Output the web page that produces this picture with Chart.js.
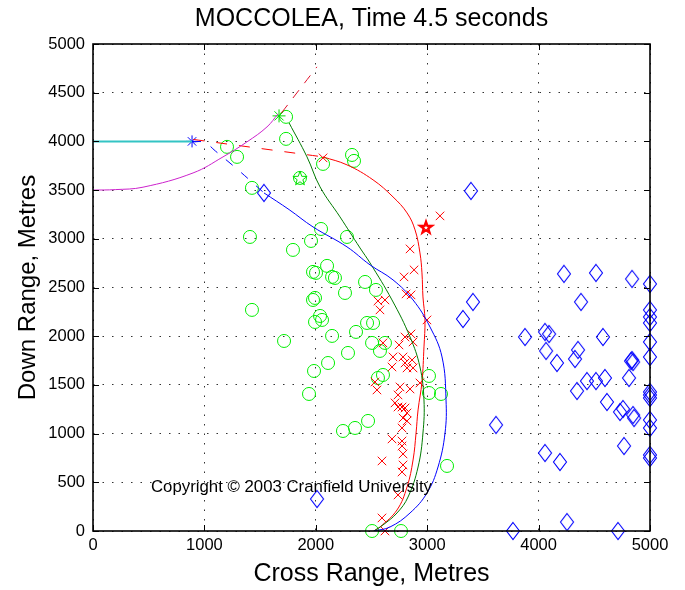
<!DOCTYPE html>
<html>
<head>
<meta charset="utf-8">
<title>MOCCOLEA, Time 4.5 seconds</title>
<script src="https://cdn.jsdelivr.net/npm/chart.js@4.4.0/dist/chart.umd.min.js"></script>
<style>
  html, body { margin: 0; padding: 0; background: #fff; }
  #wrap { width: 685px; height: 590px; }
</style>
</head>
<body>
<div id="wrap"><canvas id="plot" width="685" height="590"></canvas></div>
<script>
const xTicks = [0, 1000, 2000, 3000, 4000, 5000];
const yTicks = [0, 500, 1000, 1500, 2000, 2500, 3000, 3500, 4000, 4500, 5000];

// tracks (cross range, down range)
const launchTrack = [[0, 4000], [889, 4000]];
const arcTrack = [[0, 3500], [200, 3505], [449, 3530], [898, 3676], [1167, 3841], [1382, 3995], [1562, 4149], [1661, 4283]];
const redLead = [[900, 4020], [2065, 3841]];
const redClimb = [[1690, 4290], [2010, 4765]];
const blueLead = [[889, 3995], [1000, 3990], [1100, 3900], [1320, 3690], [1535, 3471]];
const blueTrack = [[1535, 3471], [1760, 3300], [1975, 3122], [2280, 2917], [2487, 2732], [2693, 2578], [2873, 2372], [3025, 2095],
  [3133, 1787], [3169, 1345], [3160, 1006], [3097, 657], [2998, 390], [2846, 185], [2666, 41], [2520, 0]];
const greenTrack = [[1760, 4190], [1921, 3841], [2038, 3533], [2217, 3225], [2397, 2906], [2487, 2752], [2684, 2372], [2846, 1992],
  [2935, 1684], [2971, 1345], [2962, 1006], [2918, 657], [2828, 349], [2729, 185], [2603, 62], [2520, 0]];
const redTrack = [[2065, 3841], [2280, 3759], [2514, 3605], [2693, 3430], [2819, 3266], [2891, 3091], [2935, 2855], [2953, 2650],
  [2962, 2403], [2980, 2167], [2971, 1890], [2953, 1530], [2918, 1243], [2900, 1006], [2873, 729], [2819, 452], [2729, 216],
  [2576, 41], [2520, 0]];

// detections
const circles = [[1733, 4252], [1733, 4026], [1203, 3944], [1293, 3841], [2065, 3769], [2325, 3861], [2343, 3800], [1858, 3625],
  [1427, 3523], [1409, 3019], [2047, 3101], [2280, 3019], [1957, 2978], [1795, 2886], [2101, 2722], [1975, 2660], [2002, 2650],
  [2146, 2609], [2172, 2598], [2442, 2557], [2540, 2475], [2262, 2444], [1975, 2372], [1993, 2393], [1427, 2270], [2038, 2208],
  [2056, 2167], [1993, 2146], [2146, 2003], [2361, 2044], [2460, 2136], [2514, 2136], [2505, 1931], [2621, 1931], [2576, 1849],
  [1715, 1951], [2289, 1828], [2110, 1725], [1984, 1643], [2558, 1571], [2603, 1602], [3016, 1592], [3016, 1417], [3124, 1407],
  [1939, 1407], [2469, 1130], [2352, 1058], [2244, 1027], [3178, 668], [2505, 0], [2765, 0]];
const crosses = [[2065, 3831], [3115, 3235], [2846, 2896], [2792, 2609], [2882, 2681], [2810, 2434], [2855, 2424], [2558, 2362],
  [2621, 2372], [2576, 2270], [2998, 2167], [2801, 1992], [2855, 2023], [2873, 1941], [2747, 1910], [2603, 1931], [2693, 1787],
  [2783, 1787], [2864, 1756], [2801, 1725], [2819, 1674], [2684, 1684], [2873, 1674], [2531, 1530], [2549, 1448], [2756, 1479],
  [2846, 1458], [2935, 1520], [2738, 1397], [2711, 1315], [2774, 1273], [2801, 1263], [2738, 1273], [2819, 1212], [2783, 1160],
  [2819, 1130], [2774, 1058], [2684, 945], [2774, 924], [2774, 873], [2594, 719], [2783, 791], [2783, 678], [2774, 606],
  [2738, 370], [2594, 134], [2621, 0]];
const diamonds = [[1535, 3471], [3393, 3492], [4228, 2640], [4515, 2650], [4839, 2588], [5000, 2537], [3411, 2352], [3321, 2177],
  [4381, 2352], [3878, 1992], [4058, 2044], [4094, 2023], [4578, 1992], [4067, 1849], [4354, 1859], [4327, 1766], [4165, 1725],
  [5000, 2270], [5000, 2198], [5000, 2136], [5000, 1941], [5000, 1787], [4839, 1756], [4848, 1735], [4830, 1745], [4434, 1540],
  [4515, 1540], [4596, 1571], [4345, 1438], [4812, 1571], [4614, 1325], [4731, 1222], [4758, 1253], [4848, 1191], [4857, 1160],
  [5000, 1428], [5000, 1397], [5000, 1366], [5000, 1140], [5000, 1058], [3618, 1089], [4058, 801], [4192, 709], [4767, 873],
  [5000, 781], [5000, 750], [3770, 0], [4255, 92], [4713, 0], [2011, 329]];

const blueStar = [[889, 4000]];
const greenStar = [[1670, 4262]];
const greenPentagram = [[1858, 3625]];
const redPentagram = [[2989, 3122]];

const FONT = '"Liberation Sans", Arial, Helvetica, sans-serif';
const pts = arr => arr.map(([x, y]) => ({ x, y }));

function makeDiamond(color) {
  const c = document.createElement('canvas');
  c.width = 16; c.height = 20;
  const g = c.getContext('2d');
  g.strokeStyle = color;
  g.lineWidth = 1.1;
  g.beginPath();
  g.moveTo(8, 1.5); g.lineTo(14.5, 10); g.lineTo(8, 18.5); g.lineTo(1.5, 10);
  g.closePath();
  g.stroke();
  return c;
}

// five-pointed star outline; several passes give the heavier red one
function makePentagram(color, width, passes) {
  const c = document.createElement('canvas');
  c.width = 18; c.height = 18;
  const g = c.getContext('2d');
  g.strokeStyle = color;
  g.lineWidth = width;
  for (let p = 0; p < passes; p++) {
    const rOut = 7.5 - p * 1.6, rIn = 3 - p * 0.6;
    g.beginPath();
    for (let i = 0; i < 10; i++) {
      const r = i % 2 ? rIn : rOut;
      const a = -Math.PI / 2 + i * Math.PI / 5;
      const px = 9 + r * Math.cos(a), py = 9.8 + r * Math.sin(a);
      if (i) g.lineTo(px, py); else g.moveTo(px, py);
    }
    g.closePath();
    g.stroke();
  }
  return c;
}

function line(data, color, dash, width) {
  return {
    data: pts(data), showLine: true, borderColor: color, borderWidth: width || 1,
    borderDash: dash || [], pointRadius: 0, tension: 0.4, fill: false
  };
}

function marks(data, style, color, radius, width) {
  return {
    data: pts(data), showLine: false, pointStyle: style, pointRadius: radius,
    pointBorderColor: color, pointBackgroundColor: 'rgba(0,0,0,0)',
    pointBorderWidth: width || 1, clip: false
  };
}

// box, inward tick marks and all the captions
const axesFrame = {
  id: 'axesFrame',
  afterDraw(chart) {
    const { ctx, chartArea: a, scales: { x, y } } = chart;
    ctx.save();
    ctx.strokeStyle = '#000';
    ctx.lineWidth = 1;
    ctx.beginPath();
    xTicks.forEach(v => {
      const px = Math.round(x.getPixelForValue(v)) + 0.5;
      ctx.moveTo(px, a.bottom); ctx.lineTo(px, a.bottom - 6);
      ctx.moveTo(px, a.top); ctx.lineTo(px, a.top + 6);
    });
    yTicks.forEach(v => {
      const py = Math.round(y.getPixelForValue(v)) + 0.5;
      ctx.moveTo(a.left, py); ctx.lineTo(a.left + 6, py);
      ctx.moveTo(a.right, py); ctx.lineTo(a.right - 6, py);
    });
    ctx.stroke();
    ctx.lineWidth = 1.6;
    ctx.strokeRect(a.left, a.top, a.right - a.left, a.bottom - a.top);

    ctx.fillStyle = '#000';
    ctx.textAlign = 'center';
    ctx.textBaseline = 'middle';
    const cx = (a.left + a.right) / 2;
    ctx.font = '25px ' + FONT;
    ctx.fillText('MOCCOLEA, Time 4.5 seconds', cx, 19);
    ctx.fillText('Cross Range, Metres', cx, 574);
    ctx.save();
    ctx.translate(28, (a.top + a.bottom) / 2);
    ctx.rotate(-Math.PI / 2);
    ctx.font = '24px ' + FONT;
    ctx.fillText('Down Range, Metres', 0, 0);
    ctx.restore();
    ctx.textAlign = 'left';
    ctx.font = '16.8px ' + FONT;
    ctx.fillText('Copyright \u00a9 2003 Cranfield University', 151, 487);
    ctx.restore();
  }
};

const tickFont = { family: FONT, size: 16.5 };

new Chart(document.getElementById('plot'), {
  type: 'scatter',
  data: {
    datasets: [
      line(launchTrack, '#33c4c4', null, 2),
      line(arcTrack, '#cc22cc'),
      line(redLead, '#ff0000', [11, 12]),
      line(redClimb, '#e0102a', [10, 9]),
      line(blueLead, '#0000ff', [9, 11]),
      line(blueTrack, '#0000ff'),
      line(greenTrack, '#007a00'),
      line(redTrack, '#ff0000'),
      marks(blueStar, 'star', '#0000ff', 6),
      marks(greenStar, 'star', '#00dd00', 6.5),
      marks(greenPentagram, makePentagram('#00dd00', 1, 1), '#00dd00', 7),
      marks(redPentagram, makePentagram('#ff0000', 1.3, 3), '#ff0000', 7),
      marks(diamonds, makeDiamond('#0000ff'), '#0000ff', 8),
      marks(crosses, 'crossRot', '#ff0000', 6),
      marks(circles, 'circle', '#00ee00', 6.5)
    ]
  },
  options: {
    responsive: false,
    animation: false,
    devicePixelRatio: 1,
    layout: { padding: { top: 44, right: 35, left: 0, bottom: 0 } },
    plugins: { legend: { display: false }, tooltip: { enabled: false }, title: { display: false } },
    scales: {
      x: {
        type: 'linear', min: 0, max: 5000,
        afterBuildTicks: s => { s.ticks = xTicks.map(v => ({ value: v })); },
        afterFit: s => { s.height = 59; },
        ticks: { callback: v => String(v), font: tickFont, color: '#000', padding: 5, maxRotation: 0, autoSkip: false },
        grid: { color: '#333', lineWidth: 1, drawTicks: false },
        border: { display: false, dash: [1.5, 8] }
      },
      y: {
        type: 'linear', min: 0, max: 5000,
        afterBuildTicks: s => { s.ticks = yTicks.map(v => ({ value: v })); },
        afterFit: s => { s.width = 93; },
        ticks: { callback: v => String(v), font: tickFont, color: '#000', padding: 8, autoSkip: false },
        grid: { color: '#333', lineWidth: 1, drawTicks: false },
        border: { display: false, dash: [1.5, 8] }
      }
    }
  },
  plugins: [axesFrame]
});
</script>
</body>
</html>
